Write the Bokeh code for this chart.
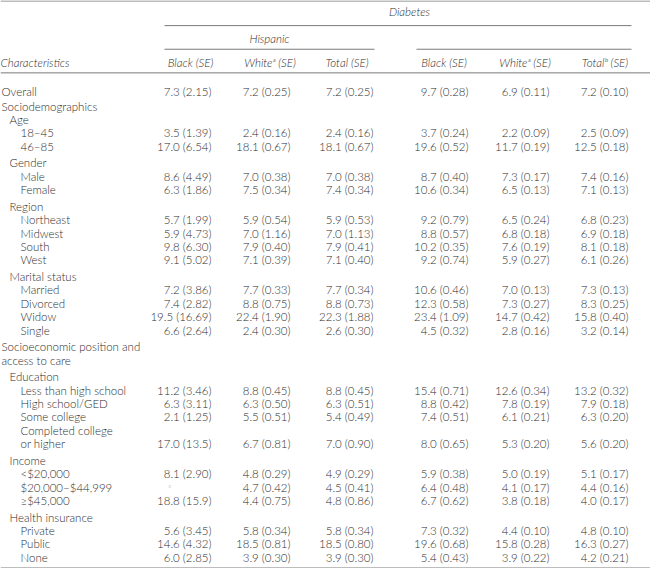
from bokeh.plotting import figure
from bokeh.models import ColumnDataSource, Range1d
from bokeh.core.properties import value
from bokeh.embed import file_html
from bokeh.resources import INLINE

# ---------------- data ----------------
title = "Diabetes"
group_labels = ["Hispanic", "Non-Hispanic"]
stub_header = "Characteristics"
col_headers = ["Black (SE)", "White\u1d43 (SE)", "Total (SE)",
               "Black (SE)", "White\u1d43 (SE)", "Total\u1d47 (SE)"]

row_labels = ["Overall", "Sociodemographics", "Age", "18–45", "46–85",
              "Gender", "Male", "Female",
              "Region", "Northeast", "Midwest", "South", "West",
              "Marital status", "Married", "Divorced", "Widow", "Single",
              "Socioeconomic position and", "access to care",
              "Education", "Less than high school", "High school/GED", "Some college",
              "Completed college", "or higher",
              "Income", "<$20,000", "$20,000–$44,999", "≥$45,000",
              "Health insurance", "Private", "Public", "None"]
row_levels = [0, 0, 1, 2, 2,
              1, 2, 2,
              1, 2, 2, 2, 2,
              1, 2, 2, 2, 2,
              0, 0,
              1, 2, 2, 2,
              2, 2,
              1, 2, 2, 2,
              1, 2, 2, 2]

hisp_black = ["7.3 (2.15)", "", "", "3.5 (1.39)", "17.0 (6.54)",
              "", "8.6 (4.49)", "6.3 (1.86)",
              "", "5.7 (1.99)", "5.9 (4.73)", "9.8 (6.30)", "9.1 (5.02)",
              "", "7.2 (3.86)", "7.4 (2.82)", "19.5 (16.69)", "6.6 (2.64)",
              "", "",
              "", "11.2 (3.46)", "6.3 (3.11)", "2.1 (1.25)",
              "", "17.0 (13.5)",
              "", "8.1 (2.90)", "c", "18.8 (15.9)",
              "", "5.6 (3.45)", "14.6 (4.32)", "6.0 (2.85)"]
hisp_white = ["7.2 (0.25)", "", "", "2.4 (0.16)", "18.1 (0.67)",
              "", "7.0 (0.38)", "7.5 (0.34)",
              "", "5.9 (0.54)", "7.0 (1.16)", "7.9 (0.40)", "7.1 (0.39)",
              "", "7.7 (0.33)", "8.8 (0.75)", "22.4 (1.90)", "2.4 (0.30)",
              "", "",
              "", "8.8 (0.45)", "6.3 (0.50)", "5.5 (0.51)",
              "", "6.7 (0.81)",
              "", "4.8 (0.29)", "4.7 (0.42)", "4.4 (0.75)",
              "", "5.8 (0.34)", "18.5 (0.81)", "3.9 (0.30)"]
hisp_total = ["7.2 (0.25)", "", "", "2.4 (0.16)", "18.1 (0.67)",
              "", "7.0 (0.38)", "7.4 (0.34)",
              "", "5.9 (0.53)", "7.0 (1.13)", "7.9 (0.41)", "7.1 (0.40)",
              "", "7.7 (0.34)", "8.8 (0.73)", "22.3 (1.88)", "2.6 (0.30)",
              "", "",
              "", "8.8 (0.45)", "6.3 (0.51)", "5.4 (0.49)",
              "", "7.0 (0.90)",
              "", "4.9 (0.29)", "4.5 (0.41)", "4.8 (0.86)",
              "", "5.8 (0.34)", "18.5 (0.80)", "3.9 (0.30)"]
nonhisp_black = ["9.7 (0.28)", "", "", "3.7 (0.24)", "19.6 (0.52)",
                 "", "8.7 (0.40)", "10.6 (0.34)",
                 "", "9.2 (0.79)", "8.8 (0.57)", "10.2 (0.35)", "9.2 (0.74)",
                 "", "10.6 (0.46)", "12.3 (0.58)", "23.4 (1.09)", "4.5 (0.32)",
                 "", "",
                 "", "15.4 (0.71)", "8.8 (0.42)", "7.4 (0.51)",
                 "", "8.0 (0.65)",
                 "", "5.9 (0.38)", "6.4 (0.48)", "6.7 (0.62)",
                 "", "7.3 (0.32)", "19.6 (0.68)", "5.4 (0.43)"]
nonhisp_white = ["6.9 (0.11)", "", "", "2.2 (0.09)", "11.7 (0.19)",
                 "", "7.3 (0.17)", "6.5 (0.13)",
                 "", "6.5 (0.24)", "6.8 (0.18)", "7.6 (0.19)", "5.9 (0.27)",
                 "", "7.0 (0.13)", "7.3 (0.27)", "14.7 (0.42)", "2.8 (0.16)",
                 "", "",
                 "", "12.6 (0.34)", "7.8 (0.19)", "6.1 (0.21)",
                 "", "5.3 (0.20)",
                 "", "5.0 (0.19)", "4.1 (0.17)", "3.8 (0.18)",
                 "", "4.4 (0.10)", "15.8 (0.28)", "3.9 (0.22)"]
nonhisp_total = ["7.2 (0.10)", "", "", "2.5 (0.09)", "12.5 (0.18)",
                 "", "7.4 (0.16)", "7.1 (0.13)",
                 "", "6.8 (0.23)", "6.9 (0.18)", "8.1 (0.18)", "6.1 (0.26)",
                 "", "7.3 (0.13)", "8.3 (0.25)", "15.8 (0.40)", "3.2 (0.14)",
                 "", "",
                 "", "13.2 (0.32)", "7.9 (0.18)", "6.3 (0.20)",
                 "", "5.6 (0.20)",
                 "", "5.1 (0.17)", "4.4 (0.16)", "4.0 (0.17)",
                 "", "4.8 (0.10)", "16.3 (0.27)", "4.2 (0.21)"]

columns = [hisp_black, hisp_white, hisp_total, nonhisp_black, nonhisp_white, nonhisp_total]

# ---------------- layout ----------------
W, H = 650, 568
FONT = value("'Lato Light', Lato")
FS = "11.5px"
TXT = "#2e2e2e"
RULE = "#7a7a7a"

# data coordinates == page pixel coordinates (x); y slightly compressed
k = 567.0 / 576.0
y_top = 3 - 0.5 / k
y_bot = y_top + H / k

p = figure(width=W, height=H, output_backend="svg", toolbar_location=None,
           x_range=Range1d(8, 8 + W), y_range=Range1d(y_bot, y_top),
           x_axis_type=None, y_axis_type=None, min_border=0)
p.outline_line_color = None
p.grid.visible = False
p.background_fill_color = "white"
p.border_fill_color = "white"

# row y positions
gap_before = {1: 1.2, 5: 3.3, 8: 3.3, 13: 3.3, 18: 3.3, 20: 3.3, 26: 3.3, 30: 3.3}
step = 13.6
ys = []
y = 95.0
for i in range(len(row_labels)):
    if i > 0:
        y += step + gap_before.get(i, 0.0)
    ys.append(y)

indent = {0: 9, 1: 17, 2: 28}
col_right = [219, 298, 381, 476, 557, 636]
col_head_center = [198, 277.5, 354.5, 451.5, 532.5, 612.5]

# rules
rx0 = [8, 172, 172, 424, 8, 8]
rx1 = [658, 639, 382, 639, 658, 658]
ry = [3, 28, 52, 52, 76, 579]
p.segment(x0=rx0, y0=ry, x1=rx1, y1=ry, line_color=RULE, line_width=1)

# header texts
p.text(x=[417], y=[14], text=[title], text_align="center", text_baseline="middle",
       text_font=FONT, text_font_size=FS, text_font_style="italic", text_color=TXT)
p.text(x=[277, 532], y=[41], text=group_labels, text_align="center", text_baseline="middle",
       text_font=FONT, text_font_size=FS, text_font_style="italic", text_color=TXT)
p.text(x=[8], y=[65], text=[stub_header], text_align="left", text_baseline="middle",
       text_font=FONT, text_font_size=FS, text_font_style="italic", text_color=TXT)
p.text(x=col_head_center, y=[65] * 6, text=col_headers, text_align="center",
       text_baseline="middle", text_font=FONT, text_font_size=FS,
       text_font_style="italic", text_color=TXT)

# stub labels
stub = ColumnDataSource(dict(x=[indent[l] for l in row_levels], y=ys, t=row_labels))
p.text(x="x", y="y", text="t", source=stub, text_align="left", text_baseline="middle",
       text_font=FONT, text_font_size=FS, text_color=TXT)

# cells
cx, cy, ct = [], [], []
fx, fy, ft = [], [], []
for ci, col in enumerate(columns):
    for ri, v in enumerate(col):
        if not v:
            continue
        if len(v) == 1:  # footnote marker only
            fx.append(col_right[ci] - 43)
            fy.append(ys[ri] - 2)
            ft.append(v)
        else:
            cx.append(col_right[ci])
            cy.append(ys[ri])
            ct.append(v)
cells = ColumnDataSource(dict(x=cx, y=cy, t=ct))
p.text(x="x", y="y", text="t", source=cells, text_align="right", text_baseline="middle",
       text_font=FONT, text_font_size=FS, text_color=TXT)
foot = ColumnDataSource(dict(x=fx, y=fy, t=ft))
p.text(x="x", y="y", text="t", source=foot, text_align="left", text_baseline="middle",
       text_font=FONT, text_font_size="6px", text_color="#888888")

open("out.html", "w").write(file_html(p, INLINE))
